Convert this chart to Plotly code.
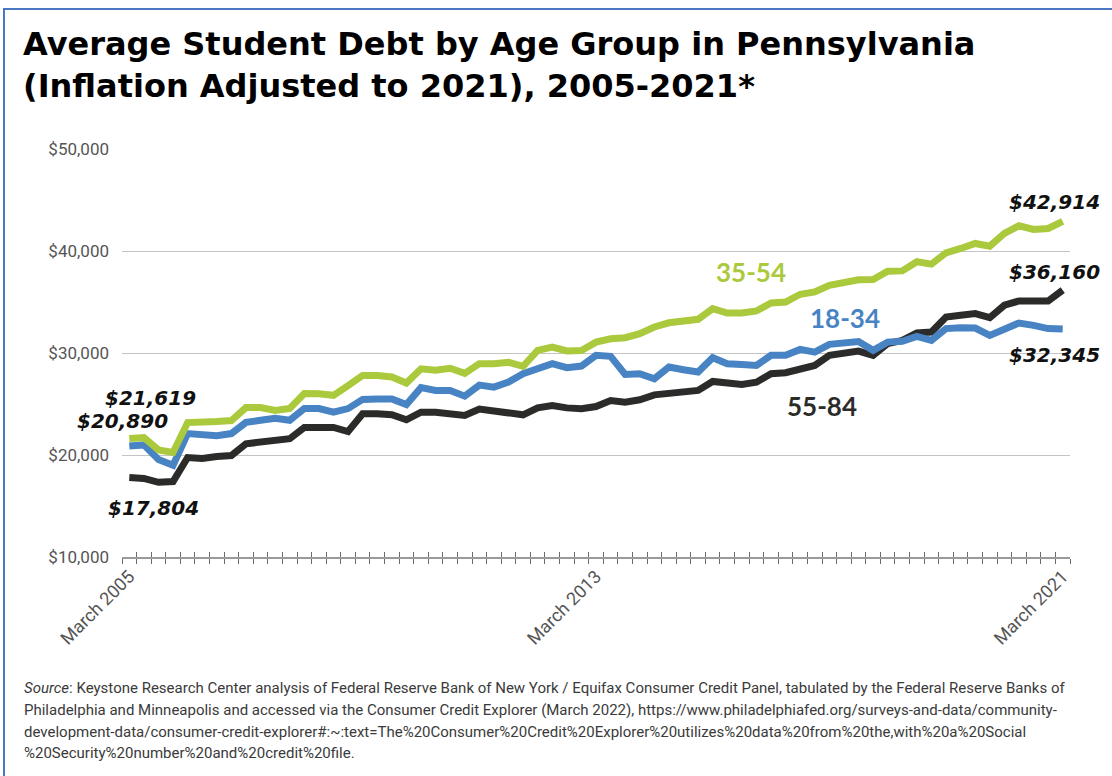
import plotly.graph_objects as go

# Quarterly observations, March 2005 through March 2021
quarters = [f"{m} {y}" for y in range(2005, 2022) for m in ("March", "June", "September", "December")][:65]

debt_35_54 = [21619, 21700, 20500, 20250, 23180, 23180, 23280, 23380, 24650, 24650,
              24360, 24560, 26030, 26000, 25850, 26800, 27800, 27800, 27650, 27050,
              28450, 28300, 28500, 28000, 28950, 28950, 29100, 28700, 30250, 30580,
              30200, 30250, 31070, 31400, 31500, 31900, 32550, 32960, 33200, 33300,
              34350, 33920, 33920, 34120, 34900, 35000, 35760, 35990, 36640, 36970,
              37180, 37200, 38020, 38050, 38950, 38710, 39820, 40250, 40740, 40470,
              41720, 42470, 42110, 42210, 42914]

debt_18_34 = [20890, 20990, 19550, 19000, 22100, 22000, 21900, 22100, 23200, 23400,
              23600, 23400, 24550, 24550, 24200, 24550, 25450, 25500, 25500, 24950,
              26600, 26330, 26330, 25770, 26850, 26650, 27150, 27970, 28400, 28950,
              28560, 28720, 29770, 29670, 27900, 27970, 27480, 28620, 28360, 28130,
              29540, 28950, 28880, 28780, 29770, 29770, 30350, 30090, 30850, 31000,
              31120, 30260, 31070, 31150, 31630, 31240, 32390, 32480, 32450, 31730,
              32390, 32940, 32710, 32390, 32345]

debt_55_84 = [17804, 17700, 17320, 17400, 19750, 19650, 19850, 19950, 21100, 21250,
              21300, 21600, 22700, 22700, 22700, 22300, 24050, 24050, 23950, 23450,
              24200, 24200, 24100, 23870, 24500, 24360, 24200, 23940, 24620, 24850,
              24620, 24530, 24750, 25340, 25180, 25410, 25900, 26100, 26160, 26330,
              27210, 26980, 26920, 27140, 27970, 28070, 28460, 28780, 29770, 29930,
              30190, 29770, 30920, 31240, 31960, 32060, 33530, 33700, 33860, 33470,
              34680, 35100, 35100, 35100, 36160]

x_tick_labels = ["March 2005", "March 2013", "March 2021"]
y_tick_values = [10000, 20000, 30000, 40000, 50000]
y_tick_labels = ["$10,000", "$20,000", "$30,000", "$40,000", "$50,000"]

source_lines = [
    "<i>Source</i>: Keystone Research Center analysis of Federal Reserve Bank of New York / Equifax Consumer Credit Panel, tabulated by the Federal Reserve Banks of",
    "Philadelphia and Minneapolis and accessed via the Consumer Credit Explorer (March 2022), https://www.philadelphiafed.org/surveys-and-data/community-",
    "development-data/consumer-credit-explorer#:~:text=The%20Consumer%20Credit%20Explorer%20utilizes%20data%20from%20the,with%20a%20Social",
    "%20Security%20number%20and%20credit%20file.",
]

GREEN = "#abc93c"
BLUE = "#4884c4"
DARK = "#2b2c29"
GRAY_TXT = "#555555"
NARROW = "Roboto, Lato, sans-serif"
HEAVY = "Lato, Noto Sans, sans-serif"
WIDE_BOLD = "DejaVu Sans, sans-serif"

idx = list(range(len(quarters)))
n = len(quarters)

fig = go.Figure()
series = [("55-84", debt_55_84, DARK), ("18-34", debt_18_34, BLUE), ("35-54", debt_35_54, GREEN)]
for name, vals, col in series:
    fig.add_trace(go.Scatter(x=idx, y=vals, mode="lines", name=name,
                             line=dict(color=col, width=7, shape="linear"),
                             customdata=quarters, hoverinfo="skip", showlegend=False))

# invisible trace so the tick-overlay axis is drawn
fig.add_trace(go.Scatter(x=[0], y=[None], xaxis="x2", mode="lines", showlegend=False, hoverinfo="skip"))

# series name labels
for text, xi, yv, col in [("35-54", 42.6, 37900, GREEN), ("18-34", 49.1, 33400, BLUE), ("55-84", 47.5, 24850, DARK)]:
    fig.add_annotation(x=xi, y=yv, xref="x", yref="y", text=text, showarrow=False,
                       font=dict(family=HEAVY, size=26, color=col, weight=700))

# start and end value labels
def money(v):
    return f"${v:,.0f}"

value_labels = [
    (0, debt_35_54[0], 21, 40),
    (0, debt_18_34[0], -7, 25),
    (0, debt_55_84[0], 24, -31),
    (n - 1, debt_35_54[-1], -8, 19),
    (n - 1, debt_55_84[-1], -8, 18),
    (n - 1, debt_18_34[-1], -8, -26),
]
for xi, v, dx, dy in value_labels:
    fig.add_annotation(x=xi, y=v, xref="x", yref="y", text=f"<b><i>{money(v)}</i></b>",
                       showarrow=False, xshift=dx, yshift=dy,
                       font=dict(family=WIDE_BOLD, size=20, color="#111111"))

# title
fig.add_annotation(x=-0.1065, y=1.309, xref="paper", yref="paper", xanchor="left", yanchor="top",
                   align="left", showarrow=False,
                   text="<b>Average Student Debt by Age Group in Pennsylvania<br>(Inflation Adjusted to 2021), 2005-2021*</b>",
                   font=dict(family=WIDE_BOLD, size=32, color="#000000"))

# source note
for k, line in enumerate(source_lines):
    py = 688 + 21.8 * k
    fig.add_annotation(x=-0.1055, y=(557 - py) / 408, xref="paper", yref="paper",
                       xanchor="left", yanchor="middle", align="left", showarrow=False,
                       text=line, font=dict(family=NARROW, size=15, color="#3a3a3a"))

# frame around the graphic
fig.add_shape(type="rect", xref="paper", yref="paper",
              x0=(4 - 122) / 948, x1=(1125 - 122) / 948,
              y0=(557 - 790) / 408, y1=(557 - 9) / 408,
              line=dict(color="#4a78c0", width=2), fillcolor="rgba(0,0,0,0)", layer="below")

boundaries = [i - 0.5 for i in range(n + 1)]

fig.update_layout(
    width=1112, height=776,
    margin=dict(l=122, r=42, t=149, b=219),
    paper_bgcolor="white", plot_bgcolor="white",
    xaxis=dict(
        range=[-0.5, n - 0.5], tickmode="array", tickvals=[0, 32, 64], ticktext=x_tick_labels,
        tickangle=-45, ticks="", showgrid=False, zeroline=False,
        showline=True, linecolor="#9a9a9a", linewidth=2,
        tickfont=dict(family=NARROW, size=18, color=GRAY_TXT),
        minor=dict(tickmode="array", tickvals=boundaries, ticks="outside", ticklen=5,
                   tickwidth=1, tickcolor="#6a6a6a", showgrid=False),
    ),
    xaxis2=dict(
        overlaying="x", matches="x", anchor="y", side="bottom", range=[-0.5, n - 0.5],
        tickmode="array", tickvals=boundaries, ticks="inside", ticklen=5, tickwidth=1,
        tickcolor="#6a6a6a", showticklabels=False, showgrid=False, zeroline=False, showline=False,
    ),
    yaxis=dict(
        range=[10000, 50000], tickmode="array", tickvals=y_tick_values, ticktext=y_tick_labels,
        showgrid=True, gridcolor="#c4c4c4", gridwidth=1, zeroline=False, showline=False,
        ticks="", ticklabelstandoff=12,
        tickfont=dict(family=NARROW, size=17, color=GRAY_TXT),
    ),
)

fig.write_html("out.html")
